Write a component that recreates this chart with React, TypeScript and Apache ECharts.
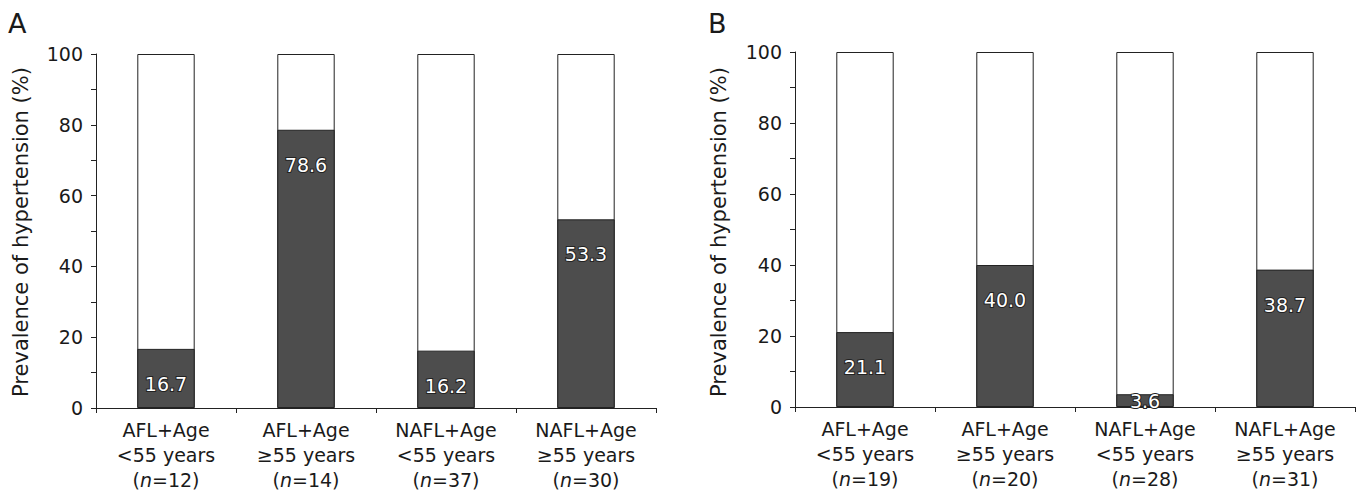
import React, { useEffect, useRef } from "react";
import * as echarts from "echarts";

const groups = ["AFL+Age", "AFL+Age", "NAFL+Age", "NAFL+Age"];
const ageGroups = ["<55 years", "≥55 years", "<55 years", "≥55 years"];
const nA = [12, 14, 37, 30];
const nB = [19, 20, 28, 31];
const prevalenceA = [16.7, 78.6, 16.2, 53.3];
const prevalenceB = [21.1, 40.0, 3.6, 38.7];
const totals = [100, 100, 100, 100];
const yTicks = [0, 20, 40, 60, 80, 100];
const yTitle = "Prevalence of hypertension (%)";
const FONT = "DejaVu Sans";

function buildPanel(idx: number, ns: number[], values: number[]) {
  const cats = groups.map((_, i) => String(i));
  const xAxis = {
    type: "category",
    gridIndex: idx,
    data: cats,
    axisLine: { lineStyle: { color: "#222", width: 1 } },
    axisTick: { show: true, length: 5, inside: false, lineStyle: { color: "#222" } },
    axisLabel: {
      margin: 9,
      interval: 0,
      formatter: (v: string) => {
        const i = Number(v);
        return `{a|${groups[i]}}\n{a|${ageGroups[i]}}\n{a|(}{i|n}{a|=${ns[i]})}`;
      },
      rich: {
        a: { fontFamily: FONT, fontSize: 19, color: "#1a1a1a", lineHeight: 25 },
        i: { fontFamily: FONT, fontSize: 19, color: "#1a1a1a", lineHeight: 25, fontStyle: "italic" },
      },
    },
  };
  const yAxis = {
    type: "value",
    gridIndex: idx,
    min: 0,
    max: 100,
    interval: 10,
    splitLine: { show: false },
    axisLine: { show: true, lineStyle: { color: "#222", width: 1 } },
    axisTick: { show: true, length: 5, lineStyle: { color: "#222" } },
    axisLabel: {
      margin: 13,
      fontFamily: FONT,
      fontSize: 19,
      color: "#1a1a1a",
      formatter: (v: number) => (yTicks.includes(v) ? String(v) : ""),
    },
  };
  const series = [
    {
      type: "bar",
      xAxisIndex: idx,
      yAxisIndex: idx,
      data: totals,
      barWidth: "41%",
      barGap: "-100%",
      itemStyle: { color: "#ffffff", borderColor: "#222", borderWidth: 1 },
      silent: true,
      z: 1,
    },
    {
      type: "bar",
      xAxisIndex: idx,
      yAxisIndex: idx,
      barWidth: "41%",
      barGap: "-100%",
      data: values.map((v) => ({
        value: v,
        label: v < 8 ? { position: ["50%", 7] } : undefined,
      })),
      itemStyle: { color: "#4d4d4d", borderColor: "#222", borderWidth: 1 },
      label: {
        show: true,
        position: ["50%", 35],
        align: "center",
        verticalAlign: "middle",
        fontFamily: FONT,
        fontSize: 19,
        color: "#ffffff",
        textBorderColor: "#222",
        textBorderWidth: 2,
        formatter: (p: any) => Number(p.value).toFixed(1),
      },
      z: 2,
    },
  ];
  return { xAxis, yAxis, series };
}

export default function App() {
  const ref = useRef<HTMLDivElement>(null);
  useEffect(() => {
    document.body.style.margin = "0";
    if (!ref.current) return;
    const chart = echarts.init(ref.current, undefined, { renderer: "svg" });
    const a = buildPanel(0, nA, prevalenceA);
    const b = buildPanel(1, nB, prevalenceB);
    chart.setOption({
      animation: false,
      backgroundColor: "#ffffff",
      grid: [
        { left: 96, top: 54, width: 560, height: 354 },
        { left: 795, top: 52, width: 560, height: 355 },
      ],
      xAxis: [a.xAxis, b.xAxis],
      yAxis: [a.yAxis, b.yAxis],
      series: [...a.series, ...b.series],
      graphic: [
        { type: "text", left: 8, top: 10, style: { text: "A", fontFamily: FONT, fontSize: 27, fill: "#1a1a1a" } },
        { type: "text", left: 708, top: 10, style: { text: "B", fontFamily: FONT, fontSize: 27, fill: "#1a1a1a" } },
        {
          type: "text",
          x: 21,
          y: 232,
          rotation: Math.PI / 2,
          style: { text: yTitle, fontFamily: FONT, fontSize: 21, fill: "#1a1a1a", align: "center", verticalAlign: "middle" },
        },
        {
          type: "text",
          x: 719,
          y: 232,
          rotation: Math.PI / 2,
          style: { text: yTitle, fontFamily: FONT, fontSize: 21, fill: "#1a1a1a", align: "center", verticalAlign: "middle" },
        },
      ],
    });
    return () => chart.dispose();
  }, []);
  return <div ref={ref} style={{ width: 1363, height: 495 }} />;
}
